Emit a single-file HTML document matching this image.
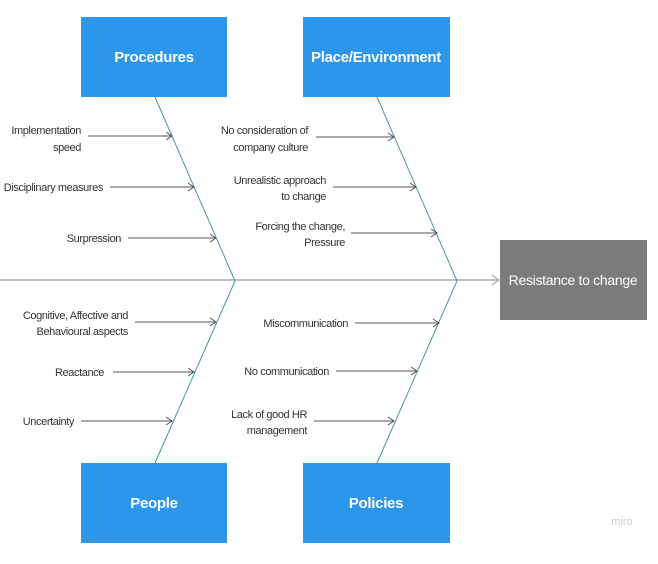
<!DOCTYPE html>
<html><head><meta charset="utf-8"><style>
html,body{margin:0;padding:0;background:#fff;width:658px;height:564px;overflow:hidden}
svg{display:block}
.t{font-family:"Liberation Sans",Arial,sans-serif;font-size:11px;fill:#333;letter-spacing:-0.4px}
.h{font-family:"Liberation Sans",Arial,sans-serif;font-size:15px;font-weight:bold;fill:#fff;letter-spacing:-0.3px}
</style></head><body>
<svg width="658" height="564" viewBox="0 0 658 564">
<defs>
<marker id="a" markerWidth="10" markerHeight="10" refX="8" refY="5" orient="auto" markerUnits="userSpaceOnUse">
<path d="M2,1 L8,5 L2,9" fill="none" stroke="#555" stroke-width="1"/></marker>
<marker id="g" markerWidth="12" markerHeight="12" refX="9" refY="6" orient="auto" markerUnits="userSpaceOnUse">
<path d="M2,1 L9,6 L2,11" fill="none" stroke="#999" stroke-width="1"/></marker>
</defs>
<!-- boxes -->
<rect x="81" y="17" width="146" height="80" fill="#2b96ea"/>
<text class="h" x="154" y="62" text-anchor="middle">Procedures</text>
<rect x="303" y="17" width="147" height="80" fill="#2b96ea"/>
<text class="h" x="376" y="62" text-anchor="middle">Place/Environment</text>
<rect x="81" y="463" width="146" height="80" fill="#2b96ea"/>
<text class="h" x="154" y="508" text-anchor="middle">People</text>
<rect x="303" y="463" width="147" height="80" fill="#2b96ea"/>
<text class="h" x="376" y="508" text-anchor="middle">Policies</text>
<rect x="500" y="240" width="147" height="80" fill="#7b7b7b"/>
<text x="573" y="285" text-anchor="middle" style="font-family:'Liberation Sans',Arial,sans-serif;font-size:14px;fill:#fff;letter-spacing:-0.3px">Resistance to change</text>
<!-- spine -->
<line x1="0" y1="280" x2="499" y2="280" stroke="#aaa" stroke-width="1.5" marker-end="url(#g)"/>
<!-- bones -->
<g stroke="#4a93a8" stroke-width="1" fill="none">
<line x1="155" y1="97" x2="235" y2="281"/>
<line x1="155" y1="463" x2="235" y2="281"/>
<line x1="377" y1="97" x2="457" y2="281"/>
<line x1="377" y1="463" x2="457" y2="281"/>
</g>
<!-- arrows -->
<g stroke="#555" stroke-width="1" marker-end="url(#a)">
<line x1="88" y1="136" x2="172" y2="136"/>
<line x1="110" y1="187" x2="194" y2="187"/>
<line x1="128" y1="238" x2="216" y2="238"/>
<line x1="316" y1="137" x2="394" y2="137"/>
<line x1="333" y1="187" x2="416" y2="187"/>
<line x1="351" y1="233" x2="437" y2="233"/>
<line x1="135" y1="322" x2="216" y2="322"/>
<line x1="113" y1="372" x2="194" y2="372"/>
<line x1="81" y1="421" x2="172" y2="421"/>
<line x1="355" y1="323" x2="439" y2="323"/>
<line x1="336" y1="371" x2="417" y2="371"/>
<line x1="314" y1="421" x2="394" y2="421"/>
</g>
<!-- labels -->
<g class="t" text-anchor="end">
<text x="81" y="134">Implementation</text><text x="81" y="151">speed</text>
<text x="103" y="191">Disciplinary measures</text>
<text x="121" y="242">Surpression</text>
<text x="308" y="134">No consideration of</text><text x="308" y="151">company culture</text>
<text x="326" y="184">Unrealistic approach</text><text x="326" y="200">to change</text>
<text x="345" y="230">Forcing the change,</text><text x="345" y="246">Pressure</text>
<text x="128" y="319">Cognitive, Affective and</text><text x="128" y="335">Behavioural aspects</text>
<text x="104" y="376">Reactance</text>
<text x="74" y="425">Uncertainty</text>
<text x="348" y="327">Miscommunication</text>
<text x="329" y="375">No communication</text>
<text x="307" y="418">Lack of good HR</text><text x="307" y="434">management</text>
</g>
<text x="622" y="525" text-anchor="middle" style="font-family:'Liberation Sans',Arial,sans-serif;font-size:11px;fill:#ccc">miro</text>
</svg>
</body></html>
